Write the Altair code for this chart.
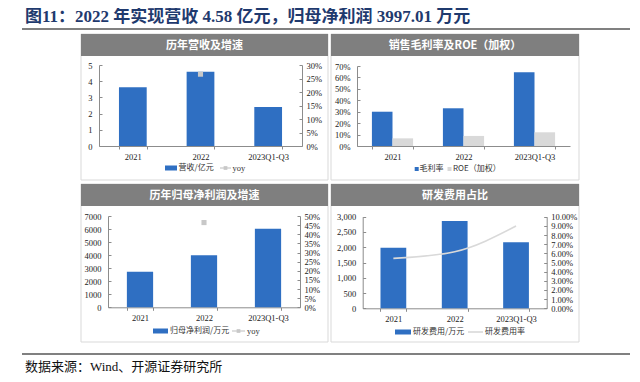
import altair as alt
import pandas as pd

# ---------------- data ----------------
cats = ["2021", "2022", "2023Q1-Q3"]
revenue = [3.63, 4.58, 2.41]            # 营收/亿元
revenue_yoy = [None, 26.6, None]        # yoy %
gross_margin = [30.0, 33.0, 64.5]       # 毛利率 %
roe_weighted = [6.7, 8.8, 12.0]         # ROE（加权）%
net_profit = [2730, 3997.01, 6030]      # 归母净利润/万元
profit_yoy = [None, 46.4, None]         # yoy %
rd_expense = [1985, 2860, 2160]         # 研发费用/万元
rd_ratio = [5.45, 6.18, 8.98]           # 研发费用率 %

header = "图11：2022 年实现营收 4.58 亿元，归母净利润 3997.01 万元"
footer = "数据来源：Wind、开源证券研究所"
panel_titles = ["历年营收及增速", "销售毛利率及ROE（加权）", "历年归母净利润及增速", "研发费用占比"]

# ---------------- style ----------------
SERIF = "Liberation Serif, Noto Sans CJK SC"
CJK = "Noto Sans CJK SC"
BLUE = "#2F6FC2"
LGRAY = "#D9D9D9"
MGRAY = "#C8C8C8"
AX = "#8C8C8C"
TXT = "#222222"
ONE = pd.DataFrame({"k": [0]})

VW, VH = 622, 364   # single view covering the figure (page offset 8px)


def P(v):
    return v - 8


def vtext(x, y, s, size=8, font=CJK, color="#333333", align="left", weight="normal"):
    return alt.Chart(ONE).mark_text(text=s, align=align, baseline="middle", font=font,
                                    fontSize=size, color=color, fontWeight=weight).encode(
        x=alt.value(P(x)), y=alt.value(P(y)))


def vrect(x1, x2, y1, y2, color):
    return alt.Chart(ONE).mark_rect(color=color).encode(
        x=alt.value(P(x1)), x2=alt.value(P(x2)), y=alt.value(P(y1)), y2=alt.value(P(y2)))


def vframe(x1, x2, y1, y2, color):
    return alt.Chart(ONE).mark_rect(fillOpacity=0, stroke=color, strokeWidth=1).encode(
        x=alt.value(P(x1)), x2=alt.value(P(x2)), y=alt.value(P(y1)), y2=alt.value(P(y2)))


def vrule(x1, x2, y, color, w):
    return alt.Chart(ONE).mark_rule(color=color, strokeWidth=w).encode(
        x=alt.value(P(x1)), x2=alt.value(P(x2)), y=alt.value(P(y)))


def vsquare(x, y, color, size):
    return alt.Chart(ONE).mark_square(color=color, size=size, opacity=1).encode(
        x=alt.value(P(x)), y=alt.value(P(y)))


def panel_box(x1, x2, y1, y2, text):
    return [vframe(x1, x2, y1, y2, LGRAY),
            vrect(x1, x2, y1, y1 + 22, "#7F7F7F"),
            vtext((x1 + x2) / 2, y1 + 11.5, text, size=11, font=CJK, color="white",
                  align="center", weight="bold")]


def xaxis(yb):
    return alt.Axis(orient="bottom", offset=P(yb) - VH, labelAngle=0, tickBand="extent",
                    tickSize=3, labelPadding=3, labelFont=SERIF, labelFontSize=8.5,
                    labelColor=TXT, domainColor=AX, tickColor=AX, grid=False)


def xenc(xl, xr, yb, p, shift=0.0, axis=True):
    kw = {"axis": xaxis(yb)} if axis else {"axis": None}
    return alt.X("cat:N", sort=cats, title=None,
                 scale=alt.Scale(domain=cats, range=[P(xl) + shift, P(xr) + shift],
                                 paddingInner=p, paddingOuter=p / 2), **kw)


def yscale(dom, yb, yt):
    return alt.Scale(domain=dom, range=[P(yb), P(yt)], nice=False)


def left_axis(xl, values, **kw):
    return alt.Axis(orient="left", offset=-P(xl), values=values, tickSize=0, labelPadding=7,
                    title=None, grid=False, domainColor=AX, labelFont=SERIF, labelFontSize=8.5,
                    labelColor=TXT, **kw)


def left_inner_ticks(xl, values):
    return alt.Axis(orient="right", offset=P(xl) - VW, values=values, labels=False, domain=False,
                    tickSize=3, tickColor=AX, grid=False, title=None)


def right_axis(xr, values, **kw):
    return alt.Axis(orient="right", offset=P(xr) - VW, values=values, tickSize=0, labelPadding=4,
                    title=None, grid=False, domainColor=AX, labelFont=SERIF, labelFontSize=8.5,
                    labelColor=TXT, **kw)


def right_inner_ticks(xr, values):
    return alt.Axis(orient="left", offset=-P(xr), values=values, labels=False, domain=False,
                    tickSize=3, tickColor=AX, grid=False, title=None)


PCT = "datum.label + '%'"

# ---------------- panel 1: 营收 (page coords) ----------------
xl, xr, yb, yt = 99, 302, 146, 65
df1 = pd.DataFrame({"cat": cats, "rev": revenue, "yoy": revenue_yoy})
X1 = xenc(xl, xr, yb, 0.59)
s1 = yscale([0, 5], yb, yt)
s1r = yscale([0, 30], yb, yt)
v1 = [0, 1, 2, 3, 4, 5]
v1r = [0, 5, 10, 15, 20, 25, 30]
yoy1 = alt.Chart(df1).transform_filter("datum.yoy != null")
p1 = alt.layer(
    alt.Chart(df1).mark_bar(color=BLUE).encode(x=X1, y=alt.Y("rev:Q", scale=s1, axis=left_axis(xl, v1))),
    alt.Chart(df1).mark_point(opacity=0).encode(x=X1, y=alt.Y("rev:Q", scale=s1, axis=left_inner_ticks(xl, v1))),
    yoy1.mark_square(color=MGRAY, size=26, opacity=1).encode(
        x=X1, y=alt.Y("yoy:Q", scale=s1r, axis=right_axis(xr, v1r, labelExpr=PCT))),
    yoy1.mark_point(opacity=0).encode(x=X1, y=alt.Y("yoy:Q", scale=s1r, axis=right_inner_ticks(xr, v1r))),
).resolve_scale(y="independent")

# ---------------- panel 2: 毛利率 / ROE ----------------
xl, xr, yb, yt = 357, 570, 146, 66
df2 = pd.DataFrame({"cat": cats, "gm": gross_margin, "roe": roe_weighted})
half = (P(xr) - P(xl)) / 3 * 0.29 / 2
s2 = yscale([0, 70], yb, yt)
v2 = [0, 10, 20, 30, 40, 50, 60, 70]
p2 = alt.layer(
    alt.Chart(df2).mark_bar(color=BLUE).encode(
        x=xenc(xl, xr, yb, 0.71, shift=-half, axis=False),
        y=alt.Y("gm:Q", scale=s2, axis=left_axis(xl, v2, labelExpr=PCT))),
    alt.Chart(df2).mark_bar(color=LGRAY).encode(
        x=xenc(xl, xr, yb, 0.71, shift=half, axis=False),
        y=alt.Y("roe:Q", scale=s2, axis=None)),
    alt.Chart(df2).mark_point(opacity=0).encode(
        x=xenc(xl, xr, yb, 0.42),
        y=alt.Y("gm:Q", scale=s2, axis=left_inner_ticks(xl, v2))),
).resolve_scale(x="independent", y="independent")

# ---------------- panel 3: 归母净利润 ----------------
xl, xr, yb, yt = 108, 300, 307.3, 216
df3 = pd.DataFrame({"cat": cats, "np": net_profit, "yoy": profit_yoy})
X3 = xenc(xl, xr, yb, 0.59)
s3 = yscale([0, 7000], yb, yt)
s3r = yscale([0, 50], yb, yt)
v3 = [0, 1000, 2000, 3000, 4000, 5000, 6000, 7000]
v3r = [0, 5, 10, 15, 20, 25, 30, 35, 40, 45, 50]
yoy3 = alt.Chart(df3).transform_filter("datum.yoy != null")
p3 = alt.layer(
    alt.Chart(df3).mark_bar(color=BLUE).encode(x=X3, y=alt.Y("np:Q", scale=s3, axis=left_axis(xl, v3, format="d"))),
    alt.Chart(df3).mark_point(opacity=0).encode(x=X3, y=alt.Y("np:Q", scale=s3, axis=left_inner_ticks(xl, v3))),
    yoy3.mark_square(color=MGRAY, size=26, opacity=1).encode(
        x=X3, y=alt.Y("yoy:Q", scale=s3r, axis=right_axis(xr, v3r, labelExpr=PCT))),
    yoy3.mark_point(opacity=0).encode(x=X3, y=alt.Y("yoy:Q", scale=s3r, axis=right_inner_ticks(xr, v3r))),
).resolve_scale(y="independent")

# ---------------- panel 4: 研发费用 ----------------
xl, xr, yb, yt = 362.7, 546.7, 308.3, 216.7
df4 = pd.DataFrame({"cat": cats, "rd": rd_expense, "ratio": rd_ratio})
X4 = xenc(xl, xr, yb, 0.58)
s4 = yscale([0, 3000], yb, yt)
s4r = yscale([0, 10], yb, yt)
v4 = [0, 500, 1000, 1500, 2000, 2500, 3000]
v4r = [0, 1, 2, 3, 4, 5, 6, 7, 8, 9, 10]
p4 = alt.layer(
    alt.Chart(df4).mark_bar(color=BLUE).encode(x=X4, y=alt.Y("rd:Q", scale=s4, axis=left_axis(xl, v4, format=",.0f"))),
    alt.Chart(df4).mark_point(opacity=0).encode(x=X4, y=alt.Y("rd:Q", scale=s4, axis=left_inner_ticks(xl, v4))),
    alt.Chart(df4).mark_line(color=LGRAY, strokeWidth=1.6, interpolate="monotone").encode(
        x=X4, y=alt.Y("ratio:Q", scale=s4r, axis=right_axis(xr, v4r, format=".2f", labelExpr=PCT))),
    alt.Chart(df4).mark_point(opacity=0).encode(x=X4, y=alt.Y("ratio:Q", scale=s4r, axis=right_inner_ticks(xr, v4r))),
).resolve_scale(y="independent")

decor = (
    [vtext(25, 17, header, size=17, font=SERIF, color="#1F3A6E", weight="bold"),
     vrule(22, 630, 29, "#808080", 2),
     vrule(22, 630, 354, "#808080", 2),
     vtext(25, 367, footer, size=13, font=SERIF, color="#111111")]
    + panel_box(81, 328, 34, 180, panel_titles[0])
    + panel_box(331, 579, 34, 180, panel_titles[1])
    + panel_box(81, 328, 184, 342, panel_titles[2])
    + panel_box(331, 579, 184, 342, panel_titles[3])
)

legends = [
    vrect(165, 177, 165.5, 170.5, BLUE), vtext(178.5, 168, "营收/亿元"),
    vrule(220, 231, 168, MGRAY, 1.2), vsquare(225.5, 168, MGRAY, 14), vtext(232.5, 168, "yoy", font=SERIF, size=8.5),
    vsquare(416.7, 169, BLUE, 16), vtext(419.5, 169, "毛利率"),
    vsquare(449.5, 169, LGRAY, 16), vtext(453, 169, "ROE（加权）"),
    vrect(153, 168, 328.5, 333.5, BLUE), vtext(170, 331, "归母净利润/万元"),
    vrule(232, 245, 331, MGRAY, 1.2), vsquare(238.5, 331, MGRAY, 14), vtext(247, 331, "yoy", font=SERIF, size=8.5),
    vrect(395, 411, 329.5, 334.5, BLUE), vtext(413, 332, "研发费用/万元"),
    vrule(468, 483, 332, LGRAY, 1.6), vtext(485, 332, "研发费用率"),
]

chart = alt.layer(*decor, p1, p2, p3, p4, *legends).resolve_scale(
    x="independent", y="independent"
).properties(
    width=VW, height=VH, padding=0,
    autosize=alt.AutoSizeParams(type="pad"),
    background="white",
).configure_view(stroke="white", strokeWidth=0)

chart.save("out.html", embed_options={"renderer": "svg", "actions": False})
